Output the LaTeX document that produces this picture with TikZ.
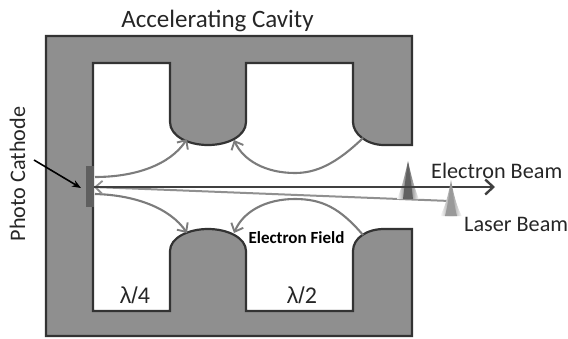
\documentclass[tikz,border=0pt]{standalone}
\usepackage{fontspec}
\setmainfont{Carlito}
\usetikzlibrary{arrows.meta}
\definecolor{cavfill}{HTML}{8F8F8F}
\definecolor{cavline}{HTML}{333333}
\definecolor{fieldline}{HTML}{7C7C7C}
\definecolor{cathcol}{HTML}{5F5F5F}
\newcommand{\lamlab}[1]{\fontspec{Liberation Sans}\fontsize{23}{23}\selectfont λ\kern0pt/\kern0pt\fontspec{Carlito}\fontsize{24}{24}\selectfont #1}
\tikzset{
  lbl/.style={inner sep=0pt,font=\fontsize{22.2}{22}\selectfont,text=black!85},
  fieldarrow/.style={draw=fieldline,line width=2.1pt,-{Straight Barb[length=7pt,width=13pt,line width=1.9pt]}},
}
\begin{document}
\begin{tikzpicture}[x=1pt,y=-1pt]
\useasboundingbox (0,0) rectangle (568,338);
% cavity
\draw[fill=cavfill,draw=cavline,line width=2.2pt,line join=miter]
 (46,36) -- (412,36) -- (412,145) -- (384,145)
 .. controls (367,145) and (353,134) .. (353,122)
 -- (353,63) -- (246,63) -- (246,122)
 .. controls (246,136) and (228,145) .. (208,145)
 .. controls (188,145) and (170,136) .. (170,122)
 -- (170,63) -- (93,63) -- (93,311) -- (170,311) -- (170,251)
 .. controls (170,238) and (188,229) .. (208,229)
 .. controls (228,229) and (246,238) .. (246,251)
 -- (246,311) -- (353,311) -- (353,251)
 .. controls (353,238) and (367,229) .. (384,229)
 -- (412,229) -- (412,336) -- (46,336) -- cycle;
% named anchors
\node[fill=cathcol,inner sep=0pt,minimum width=8pt,minimum height=41pt] (cathode) at (90,186.5) {};
\coordinate (beamstart) at (94,187);
\coordinate (beamend) at (495,187);
\coordinate (laserstart) at (94,187);
\coordinate (laserend) at (450,201);
\coordinate (noseUL) at (187,139);
\coordinate (noseUR) at (234,140);
\coordinate (noseLL) at (187,233);
\coordinate (noseLR) at (234,233);
\coordinate (rightU) at (363,138);
\coordinate (rightL) at (363,235);
\coordinate (catU) at (95,177);
\coordinate (catL) at (95,194);
\coordinate (ptr) at (81,188);
\coordinate (ptrstart) at (34,160);
% field lines
\draw[fieldarrow] (catU) .. controls (135,177) and (170,165) .. (noseUL);
\draw[fieldarrow] (catL) .. controls (135,195) and (170,208) .. (noseLL);
\draw[fieldarrow] (rightU) .. controls (335,165) and (315,173) .. (295,173) .. controls (265,173) and (243,160) .. (noseUR);
\draw[fieldarrow] (rightL) .. controls (340,208) and (322,199) .. (295,199) .. controls (265,199) and (243,212) .. (noseLR);
% beams
\draw[draw=fieldline!85,line width=2pt,{Straight Barb[length=7pt,width=13pt,line width=1.8pt]}-] (laserstart) -- (laserend);
\shade[left color=white,right color=white,middle color=black!60]
 (408,161) .. controls (405,175) and (401,190) .. (397,199) -- (419,199) .. controls (415,190) and (411,175) .. (408,161) -- cycle;
\fill[black!62] (408,163) .. controls (406,175) and (404,190) .. (403,199) -- (413,199) .. controls (412,190) and (410,175) .. (408,163) -- cycle;
\draw[draw=black!75,line width=2.4pt,-{Straight Barb[length=8pt,width=15pt,line width=2.4pt]}] (beamstart) -- (beamend);
\shade[left color=white,right color=white,middle color=black!42]
 (451,180) .. controls (449,192) and (445,208) .. (440,216) -- (462,216) .. controls (457,208) and (453,192) .. (451,180) -- cycle;
\fill[black!40] (451,182) .. controls (450,192) and (447,208) .. (445,216) -- (457,216) .. controls (455,208) and (452,192) .. (451,182) -- cycle;
% pointer
\draw[black,line width=1.6pt,-{Stealth[length=9pt,width=7pt]}] (ptrstart) -- (ptr);
% labels
\node[lbl,anchor=base,font=\fontsize{25}{25}\selectfont] (title) at (217.5,27) {Accelerating Cavity};
\node[lbl,anchor=base,rotate=90] (photo) at (25,174) {Photo Cathode};
\node[lbl,anchor=base west] (ebeam) at (431,178) {Electron Beam};
\node[lbl,anchor=base west] (lbeam) at (464,231) {Laser Beam};
\node[lbl,anchor=base] (l4) at (135,303) {\lamlab{4}};
\node[lbl,anchor=base] (l2) at (302,303) {\lamlab{2}};
\node[inner sep=0pt,anchor=base,font=\fontsize{17}{17}\selectfont\bfseries,text=black] (field) at (296.5,243) {Electron Field};
\end{tikzpicture}
\end{document}
